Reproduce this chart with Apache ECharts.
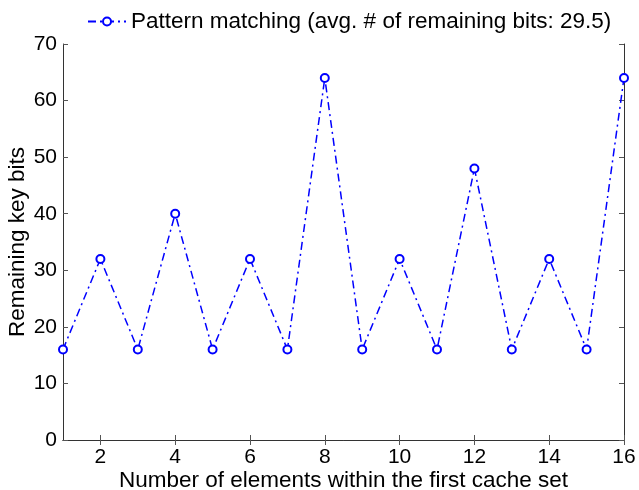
<!DOCTYPE html>
<html>
<head>
<meta charset="utf-8">
<script src="https://cdn.jsdelivr.net/npm/echarts@6/dist/echarts.min.js"></script>
<style>
  html, body { margin: 0; padding: 0; background: #fff; }
  #chart { width: 639px; height: 490px; }
</style>
</head>
<body>
<div id="chart"></div>
<script>
// elements in the first cache set -> remaining key bits
var elements = [1, 2, 3, 4, 5, 6, 7, 8, 9, 10, 11, 12, 13, 14, 15, 16];
var remainingBits = [16, 32, 16, 40, 16, 32, 16, 64, 16, 32, 16, 48, 16, 32, 16, 64];
var xTicks = [2, 4, 6, 8, 10, 12, 14, 16];
var seriesName = 'Pattern matching (avg. # of remaining bits: 29.5)';

var chart = echarts.init(document.getElementById('chart'), null, { renderer: 'canvas' });

var font = 'Liberation Sans, Arial, Helvetica, sans-serif';
var axisLine = { show: true, lineStyle: { color: '#333', width: 1 } };
var tick = { show: true, inside: true, length: 5, lineStyle: { color: '#555' } };

var option = {
  animation: false,
  grid: { left: 63, right: 15, top: 44, bottom: 50, containLabel: false, outerBoundsMode: 'none' },
  legend: {
    top: 5,
    left: 82,
    itemWidth: 38,
    itemHeight: 10,
    itemGap: 6,
    textStyle: { fontFamily: font, fontSize: 22.5, color: '#000' },
    data: [seriesName]
  },
  xAxis: [{
    type: 'value',
    min: 1,
    max: 16,
    name: 'Number of elements within the first cache set',
    nameLocation: 'middle',
    nameGap: 29,
    nameMoveOverlap: false,
    nameTextStyle: { fontFamily: font, fontSize: 22.5, color: '#000' },
    axisLine: axisLine,
    axisTick: Object.assign({ customValues: xTicks }, tick),
    axisLabel: { customValues: xTicks, fontFamily: font, fontSize: 21, color: '#000', margin: 7 },
    splitLine: { show: false }
  }, {
    type: 'value',
    position: 'top',
    min: 1,
    max: 16,
    axisLine: axisLine,
    axisTick: Object.assign({ customValues: xTicks }, tick),
    axisLabel: { show: false },
    splitLine: { show: false }
  }],
  yAxis: [{
    type: 'value',
    min: 0,
    max: 70,
    interval: 10,
    name: 'Remaining key bits',
    nameLocation: 'middle',
    nameGap: 34,
    nameMoveOverlap: false,
    nameTextStyle: { fontFamily: font, fontSize: 22.5, color: '#000' },
    axisLine: axisLine,
    axisTick: tick,
    axisLabel: { fontFamily: font, fontSize: 21, color: '#000', margin: 6 },
    splitLine: { show: false }
  }, {
    type: 'value',
    position: 'right',
    min: 0,
    max: 70,
    interval: 10,
    axisLine: axisLine,
    axisTick: tick,
    axisLabel: { show: false },
    splitLine: { show: false }
  }],
  series: [{
    name: seriesName,
    type: 'line',
    data: elements.map(function (x, i) { return [x, remainingBits[i]]; }),
    symbol: 'emptyCircle',
    symbolSize: 8,
    showAllSymbol: true,
    lineStyle: { color: '#0000ff', width: 1.5, type: [8, 4, 2, 4] },
    itemStyle: { color: '#0000ff', borderColor: '#0000ff', borderWidth: 1.5 }
  }]
};

chart.setOption(option);
</script>
</body>
</html>
